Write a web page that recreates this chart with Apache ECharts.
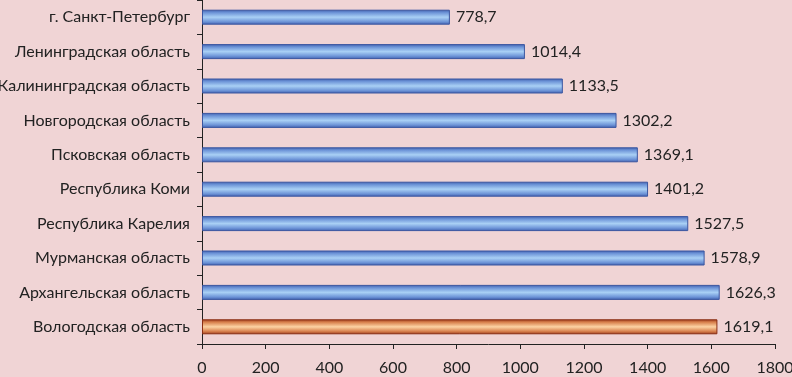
<!DOCTYPE html>
<html><head><meta charset="utf-8">
<script src="https://cdn.jsdelivr.net/npm/echarts@6/dist/echarts.min.js"></script>
<style>html,body{margin:0;padding:0;background:#f0d4d5;}#c{width:792px;height:377px;}</style>
</head><body><div id="c"></div>
<script>
const categories = ["г. Санкт-Петербург","Ленинградская область","Калининградская область","Новгородская область","Псковская область","Республика Коми","Республика Карелия","Мурманская область","Архангельская область","Вологодская область"];
const values = [778.7,1014.4,1133.5,1302.2,1369.1,1401.2,1527.5,1578.9,1626.3,1619.1];
const highlighted = ["Вологодская область"];
const xTicks = [0,200,400,600,800,1000,1200,1400,1600,1800];

const blue = {type:'linear',x:0,y:0,x2:0,y2:1,colorStops:[
  {offset:0,color:'#3f5fae'},{offset:0.2,color:'#6e95d8'},{offset:0.5,color:'#a9d0f5'},{offset:0.8,color:'#6e95d8'},{offset:1,color:'#3f5fae'}]};
const orange = {type:'linear',x:0,y:0,x2:0,y2:1,colorStops:[
  {offset:0,color:'#9c3a1c'},{offset:0.2,color:'#d9824e'},{offset:0.5,color:'#fcd3a4'},{offset:0.8,color:'#d9824e'},{offset:1,color:'#9c3a1c'}]};
const font = 'Lato, "Open Sans", sans-serif';
const chart = echarts.init(document.getElementById('c'));
chart.setOption({
  backgroundColor:'#f0d4d5',
  animation:false,
  grid:{left:202,right:17,top:0,bottom:33,containLabel:false,outerBoundsMode:'none'},
  xAxis:{type:'value',min:xTicks[0],max:xTicks[xTicks.length-1],interval:200,
    axisLine:{show:true,lineStyle:{color:'#222'}},
    axisTick:{show:true,length:5,lineStyle:{color:'#222'}},
    splitLine:{show:false},
    axisLabel:{color:'#222',fontSize:16,fontFamily:font,margin:16,formatter:v=>String(v)}},
  yAxis:{type:'category',data:categories,inverse:true,
    axisLine:{lineStyle:{color:'#222'}},
    axisTick:{show:true,length:5,lineStyle:{color:'#222'}},
    axisLabel:{color:'#222',fontSize:16,fontFamily:font,margin:12}},
  series:[{type:'bar',barWidth:15,
    data:values.map((v,i)=>({value:v,itemStyle:{color:highlighted.includes(categories[i])?orange:blue,
      borderColor:highlighted.includes(categories[i])?'#8a2e12':'#3a56a0',borderWidth:1}})),
    label:{show:true,position:'right',distance:6,color:'#222',fontSize:16,fontFamily:font,
      formatter:p=>p.value.toFixed(1).replace('.',',')}}]
});
</script></body></html>
